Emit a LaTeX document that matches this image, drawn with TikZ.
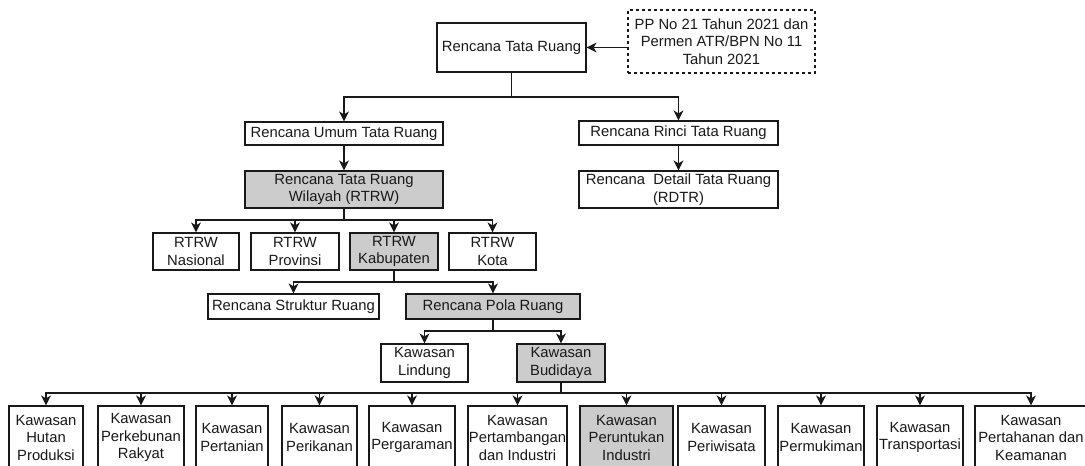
\documentclass[tikz,border=0pt]{standalone}
\usepackage{fontspec}
\setmainfont{Liberation Sans}
\usetikzlibrary{arrows.meta, positioning}
\definecolor{boxgray}{RGB}{204,204,204}
\definecolor{linedark}{RGB}{25,25,25}
\definecolor{textdark}{RGB}{25,25,25}

\begin{document}
\begin{tikzpicture}[x=1pt, y=-1pt,
    box/.style={draw=linedark, line width=1.2pt, fill=white, align=center, inner sep=0pt,
        font=\fontsize{14.8}{17.5}\selectfont, text=textdark},
    arr/.style={draw=linedark, line width=1.2pt, -{Stealth[length=10pt, width=10pt, inset=3pt]}}]
    \clip (0,0) rectangle (1085,466);
    \fill[white] (0,0) rectangle (1085,466);

    % top level
    \node[box, minimum width=149, minimum height=49] (rtr) at (511.5,47.5) {Rencana Tata Ruang};
    \node[box, dashed, dash pattern=on 3pt off 3pt, minimum width=187, minimum height=63] (pp) at (721.5,41.5)
        {PP No 21 Tahun 2021 dan\\Permen ATR/BPN No 11\\Tahun 2021};
    \draw[arr] (pp.west |- rtr.east) -- (rtr.east);

    % umum / rinci
    \coordinate (bus1) at (0,97);
    \node[box, minimum width=198, minimum height=23] (rutr) at (344,133.5) {Rencana Umum Tata Ruang};
    \node[box, minimum width=199, minimum height=24] (rrtr) at (678.5,133) {Rencana Rinci Tata Ruang};
    \draw[arr] (rtr.south) |- (rutr.north |- bus1) -- (rutr.north);
    \draw[arr] (rtr.south) |- (rrtr.north |- bus1) -- (rrtr.north);

    \node[box, fill=boxgray, minimum width=198, minimum height=37] (rtrw) at (344,189.5) {Rencana Tata Ruang\\Wilayah (RTRW)};
    \node[box, minimum width=199, minimum height=37] (rdtr) at (678.5,189.5) {Rencana\ \ Detail Tata Ruang\\(RDTR)};
    \draw[arr] (rutr) -- (rtrw);
    \draw[arr] (rrtr) -- (rdtr);

    % RTRW levels
    \coordinate (bus2) at (0,220);
    \node[box, minimum width=86, minimum height=37] (nasional) at (196,251.5) {RTRW\\Nasional};
    \node[box, minimum width=88, minimum height=37] (provinsi) at (295,251.5) {RTRW\\Provinsi};
    \node[box, fill=boxgray, minimum width=88, minimum height=37] (kabupaten) at (394,251.5) {RTRW\\Kabupaten};
    \node[box, minimum width=87, minimum height=37] (kota) at (492.5,251.5) {RTRW\\Kota};
    \foreach \lv in {nasional, provinsi, kabupaten, kota}
        \draw[arr] (rtrw.south) |- (\lv.north |- bus2) -- (\lv.north);

    % struktur / pola
    \coordinate (bus3) at (0,282);
    \node[box, minimum width=171, minimum height=25] (struktur) at (293.5,306.5) {Rencana Struktur Ruang};
    \node[box, fill=boxgray, minimum width=174, minimum height=25] (pola) at (493,306.5) {Rencana Pola Ruang};
    \draw[arr] (kabupaten.south) |- (struktur.north |- bus3) -- (struktur.north);
    \draw[arr] (kabupaten.south) |- (pola.north |- bus3) -- (pola.north);

    % lindung / budidaya
    \coordinate (bus4) at (0,331);
    \node[box, minimum width=87, minimum height=38] (lindung) at (424.5,363) {Kawasan\\Lindung};
    \node[box, fill=boxgray, minimum width=88, minimum height=38] (budidaya) at (561,363) {Kawasan\\Budidaya};
    \draw[arr] (pola.south) |- (lindung.north |- bus4) -- (lindung.north);
    \draw[arr] (pola.south) |- (budidaya.north |- bus4) -- (budidaya.north);

    % kawasan budidaya
    \coordinate (bus5) at (0,393);
    \foreach \nm/\cx/\bw/\fl/\txt in {
        hutan/46/74/white/{Kawasan\\Hutan\\Produksi},
        kebun/141/86/white/{Kawasan\\Perkebunan\\Rakyat},
        tani/232/72/white/{Kawasan\\Pertanian},
        ikan/319.5/75/white/{Kawasan\\Perikanan},
        garam/412/86/white/{Kawasan\\Pergaraman},
        tambang/517.5/99/white/{Kawasan\\Pertambangan\\dan Industri},
        industri/626.5/93/boxgray/{Kawasan\\Peruntukan\\Industri},
        wisata/721.5/87/white/{Kawasan\\Periwisata},
        mukim/821/86/white/{Kawasan\\Permukiman},
        trans/920/86/white/{Kawasan\\Transportasi},
        hankam/1031/112/white/{Kawasan\\Pertahanan dan\\Keamanan}} {
        \node[box, fill=\fl, minimum width=\bw, minimum height=63] (\nm) at (\cx,437.5) {\txt};
        \draw[arr] (budidaya.south) |- (\nm.north |- bus5) -- (\nm.north);
    }
\end{tikzpicture}
\end{document}
